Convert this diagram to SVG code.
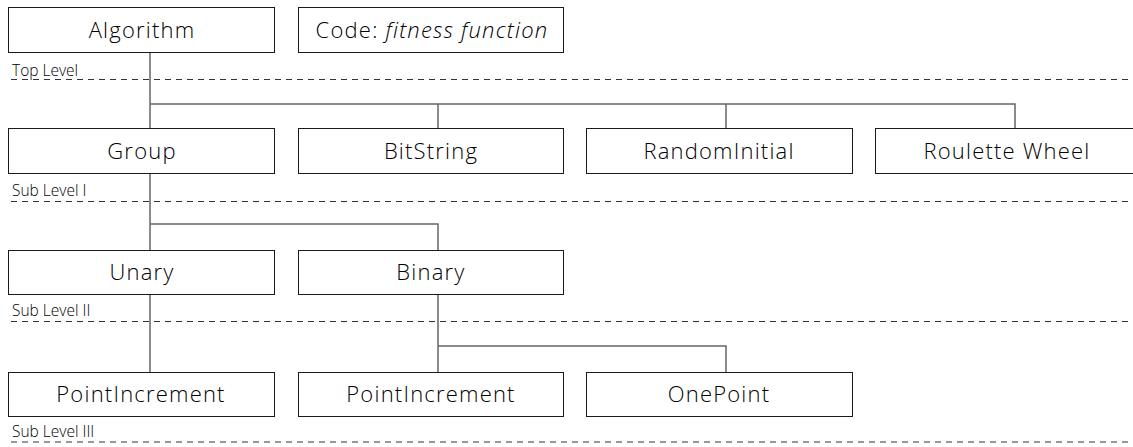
<svg xmlns="http://www.w3.org/2000/svg" width="1133" height="447" viewBox="0 0 1133 447">
<style>
.box{fill:#fff;stroke:#1a1a1a;stroke-width:1}
.t{font-family:"Open Sans","Noto Sans",sans-serif;font-weight:300;font-size:22px;letter-spacing:1.2px;fill:#000;text-anchor:middle}
.lbl{font-family:"Open Sans","Noto Sans",sans-serif;font-weight:300;font-size:15.5px;fill:#000}
.dash{stroke:#333;stroke-width:1;stroke-dasharray:6 5;fill:none}
.con{stroke:#666;stroke-width:1.5;fill:none}
</style>
<rect width="1133" height="447" fill="#fff"/>
<g id="levels">
<text class="lbl" x="12" y="76">Top Level</text>
<line class="dash" x1="11" y1="79.5" x2="1133" y2="79.5"/>
<text class="lbl" x="12" y="196">Sub Level I</text>
<line class="dash" x1="11" y1="201.5" x2="1133" y2="201.5"/>
<text class="lbl" x="12" y="316">Sub Level II</text>
<line class="dash" x1="11" y1="321.5" x2="1133" y2="321.5"/>
<text class="lbl" x="12" y="437">Sub Level III</text>
<line class="dash" x1="11" y1="442" x2="1133" y2="442" stroke="#777"/>
</g>
<g id="connectors">
<path class="con" d="M150 52V128M150 104H1015V128M438 104V128M726 104V128"/>
<path class="con" d="M150 173V250M150 224H438V250"/>
<path class="con" d="M150 294V372"/>
<path class="con" d="M438 294V372M438 346H726V372"/>
</g>
<g id="algorithm"><rect class="box" x="8.5" y="7.5" width="266" height="45"/><text class="t" x="142" y="38">Algorithm</text></g>
<g id="code"><rect class="box" x="298.5" y="7.5" width="265" height="45"/><text class="t" x="432" y="38">Code: <tspan font-style="italic">fitness function</tspan></text></g>
<g id="group"><rect class="box" x="8.5" y="128.5" width="266" height="45"/><text class="t" x="142" y="159">Group</text></g>
<g id="bitstring"><rect class="box" x="298.5" y="128.5" width="265" height="45"/><text class="t" x="431" y="159">BitString</text></g>
<g id="randominitial"><rect class="box" x="586.5" y="128.5" width="266" height="45"/><text class="t" x="719" y="159">RandomInitial</text></g>
<g id="roulette"><rect class="box" x="875.5" y="128.5" width="266" height="45"/><text class="t" x="1007" y="159">Roulette Wheel</text></g>
<g id="unary"><rect class="box" x="8.5" y="250.5" width="266" height="44"/><text class="t" x="142" y="280">Unary</text></g>
<g id="binary"><rect class="box" x="298.5" y="250.5" width="265" height="44"/><text class="t" x="431" y="280">Binary</text></g>
<g id="pointincrement1"><rect class="box" x="8.5" y="372.5" width="266" height="44"/><text class="t" x="141" y="402">PointIncrement</text></g>
<g id="pointincrement2"><rect class="box" x="298.5" y="372.5" width="265" height="44"/><text class="t" x="431" y="402">PointIncrement</text></g>
<g id="onepoint"><rect class="box" x="586.5" y="372.5" width="266" height="44"/><text class="t" x="719" y="402">OnePoint</text></g>
</svg>
